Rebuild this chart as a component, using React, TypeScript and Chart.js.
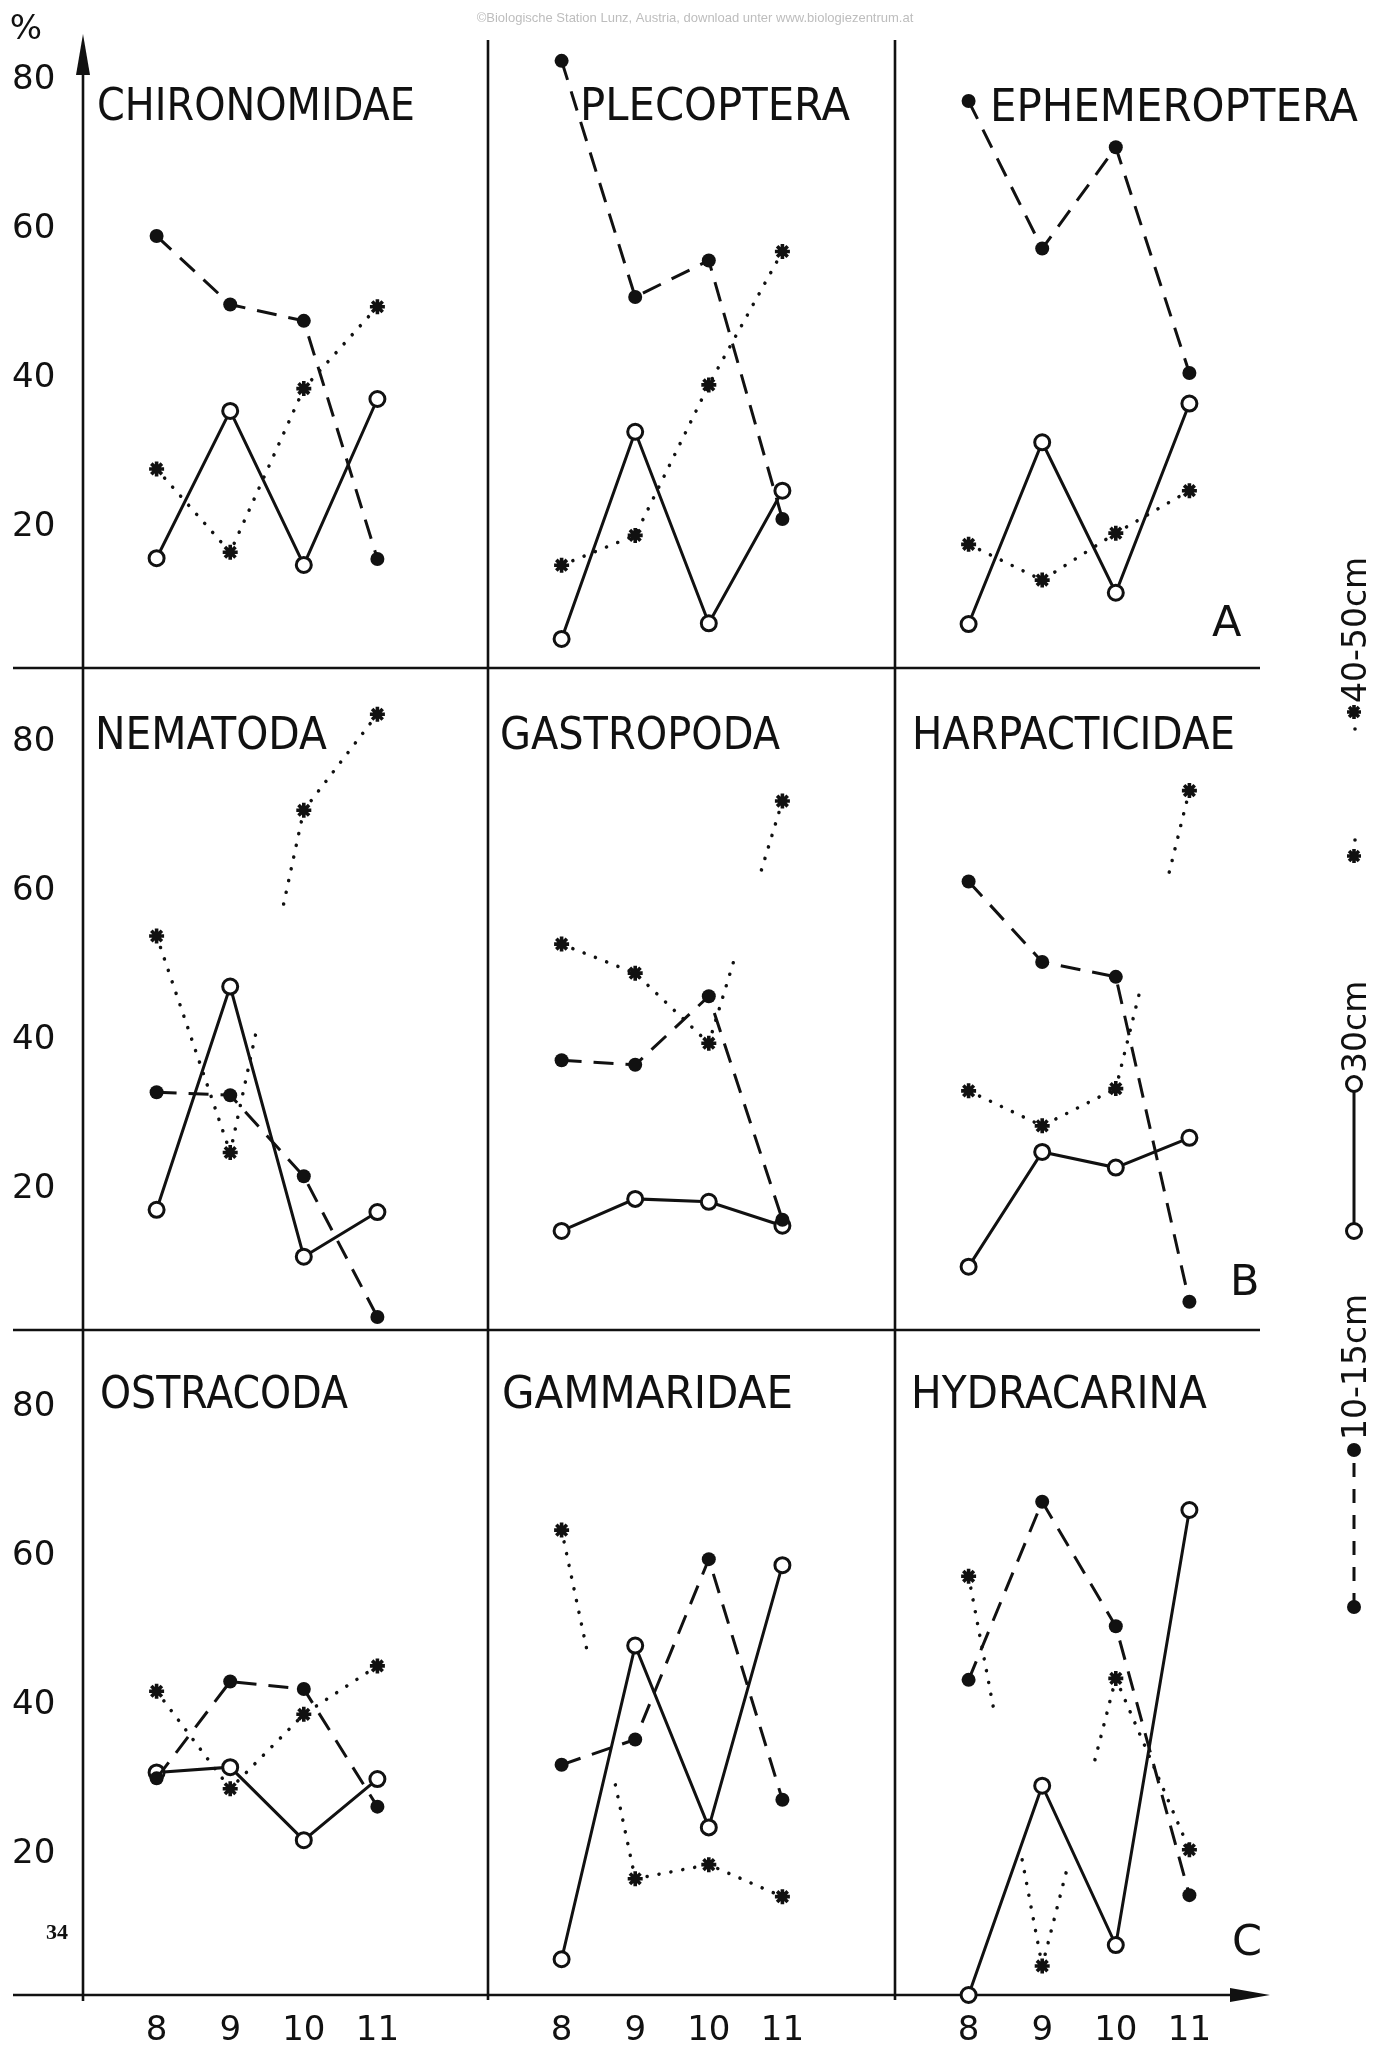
import React, { useEffect, useRef } from 'react';
import { Chart, registerables } from 'chart.js';

Chart.register(...registerables);

// ---------------------------------------------------------------------------
// Data: share (%) of each taxon found in three sediment depth layers,
// for the sampling months 8–11.
// ---------------------------------------------------------------------------
const MONTHS = [8, 9, 10, 11];
const Y_TICKS = [20, 40, 60, 80];
const DEPTHS = ['10-15cm', '30cm', '40-50cm'];
const TAXA = [
  'CHIRONOMIDAE', 'PLECOPTERA', 'EPHEMEROPTERA',
  'NEMATODA', 'GASTROPODA', 'HARPACTICIDAE',
  'OSTRACODA', 'GAMMARIDAE', 'HYDRACARINA',
];
const ROW_MARKS = ['A', 'B', 'C'];

// rows follow DEPTHS: 10-15cm, 30cm, 40-50cm
const CHIRONOMIDAE = [
  [58.0, 48.8, 46.6, 14.6],
  [14.7, 34.5, 13.8, 36.1],
  [26.7, 15.5, 37.5, 48.5],
];
const PLECOPTERA = [
  [81.5, 49.8, 54.7, 20.0],
  [3.9, 31.7, 6.0, 23.8],
  [13.8, 17.8, 38.0, 55.9],
];
const EPHEMEROPTERA = [
  [76.1, 56.3, 69.9, 39.6],
  [5.9, 30.3, 10.1, 35.5],
  [16.6, 11.8, 18.1, 23.8],
];
const NEMATODA = [
  [31.9, 31.5, 20.6, 1.7],
  [16.1, 46.1, 9.8, 15.8],
  [52.9, 23.8, 69.8, 82.7],
];
const GASTROPODA = [
  [36.2, 35.6, 44.8, 14.8],
  [13.3, 17.6, 17.2, 14.0],
  [51.8, 47.9, 38.5, 71.0],
];
const HARPACTICIDAE = [
  [60.2, 49.4, 47.4, 3.8],
  [8.5, 23.9, 21.8, 25.8],
  [32.1, 27.4, 32.4, 72.4],
];
const OSTRACODA = [
  [29.1, 42.1, 41.1, 25.3],
  [29.9, 30.6, 20.8, 29.0],
  [40.8, 27.7, 37.7, 44.2],
];
const GAMMARIDAE = [
  [30.9, 34.3, 58.5, 26.2],
  [4.8, 46.9, 22.5, 57.7],
  [62.4, 15.6, 17.5, 13.2],
];
const HYDRACARINA = [
  [42.3, 66.2, 49.5, 13.4],
  [0.0, 28.1, 6.7, 65.1],
  [56.2, 3.9, 42.5, 19.5],
];

const TAXON_VALUES = [
  CHIRONOMIDAE, PLECOPTERA, EPHEMEROPTERA,
  NEMATODA, GASTROPODA, HARPACTICIDAE,
  OSTRACODA, GAMMARIDAE, HYDRACARINA,
];

const WATERMARK = '©Biologische Station Lunz, Austria, download unter www.biologiezentrum.at';
const PAGE_NUMBER = '34';

// ---------------------------------------------------------------------------
// Layout (page pixels)
// ---------------------------------------------------------------------------
const PAGE_W = 1385;
const PAGE_H = 2049;
const COL_LEFT = [83, 488, 895];
const COL_W = 405;
const ROW_TOP = [40, 668, 1330];
const ROW_BOTTOM = [668, 1330, 1995];
const PX_PER_PCT = 7.45;
const PX_PER_MONTH = 73.6;
const X_MIN = 7;
const FRAME_LEFT = 13;
const FRAME_RIGHT = 1260;
const PAD = 20;
const PAD_RIGHT_LAST = 80;
const Y_LABEL_LEFT = 12;
const X_AXIS_H = 54;

// title: offset from panel's top-left corner (x, baseline) and drawn width
const TITLE_BOX = [
  [14, 80, 318], [92, 80, 270], [95, 81, 368],
  [12, 81, 232], [12, 81, 280], [17, 81, 323],
  [17, 78, 248], [14, 78, 291], [16, 78, 296],
];
// row letter inside the right-hand panel
const MARK_BOX = [[317, 596], [335, 627], [337, 625]];

const INK = '#111111';
const TEXT_FONT = "'DejaVu Sans', 'Liberation Sans', sans-serif";

function hasFont(name: string): boolean {
  const c = document.createElement('canvas').getContext('2d');
  if (!c) return false;
  const s = '0123456789-cmABCabc';
  c.font = '40px monospace';
  const a = c.measureText(s).width;
  c.font = `40px '${name}', monospace`;
  const b = c.measureText(s).width;
  return Math.abs(a - b) > 0.5;
}

// sparse dots; long segments only keep dots near both ends
const DOT_STEP = 12;
function dottedPattern(ctx: any): number[] {
  const a = ctx.p0;
  const b = ctx.p1;
  const len = Math.hypot(b.x - a.x, b.y - a.y);
  if (!(len > 235)) return [0.1, DOT_STEP];
  const marks: number[] = [];
  for (let s = 0; s <= len * 0.35; s += DOT_STEP) marks.push(s);
  const tail: number[] = [];
  for (let s = len; s >= len * 0.7; s -= DOT_STEP) tail.push(s);
  marks.push(...tail.reverse());
  const dash: number[] = [];
  for (let i = 0; i < marks.length; i++) {
    const next = i + 1 < marks.length ? marks[i + 1] : marks[i] + 4000;
    dash.push(0.1, Math.max(next - marks[i] - 0.1, 0.1));
  }
  return dash;
}

function depthDataset(depth: number, values: number[]) {
  const data = MONTHS.map((m, i) => ({ x: m, y: values[i] }));
  const common = {
    label: DEPTHS[depth],
    data,
    clip: false as const,
    borderColor: INK,
    pointBorderColor: INK,
    pointHoverRadius: 0,
  };
  if (depth === 0) {
    return {
      ...common,
      borderWidth: 3,
      borderDash: [20, 12],
      pointStyle: 'circle',
      pointRadius: 7,
      pointBackgroundColor: INK,
      pointBorderWidth: 0,
    };
  }
  if (depth === 1) {
    return {
      ...common,
      borderWidth: 3,
      pointStyle: 'circle',
      pointRadius: 7.5,
      pointBackgroundColor: '#ffffff',
      pointBorderWidth: 3,
    };
  }
  return {
    ...common,
    borderWidth: 3.5,
    borderCapStyle: 'round' as const,
    segment: { borderDash: dottedPattern },
    pointStyle: 'star',
    pointRadius: 7.5,
    pointBackgroundColor: INK,
    pointBorderWidth: 3.6,
  };
}

const panelText = {
  id: 'panelText',
  beforeDatasetsDraw(chart: any, _args: any, opts: any) {
    const { ctx, chartArea } = chart;
    ctx.save();
    ctx.fillStyle = INK;
    ctx.textAlign = 'left';
    ctx.textBaseline = 'alphabetic';
    ctx.font = `45px ${TEXT_FONT}`;
    const w = ctx.measureText(opts.title).width;
    ctx.translate(chartArea.left + opts.dx, chartArea.top + opts.dy);
    ctx.scale(opts.width / w, 1);
    ctx.fillText(opts.title, 0, 0);
    ctx.restore();
    if (opts.mark) {
      ctx.save();
      ctx.fillStyle = INK;
      ctx.textAlign = 'left';
      ctx.textBaseline = 'alphabetic';
      ctx.font = `43px ${TEXT_FONT}`;
      ctx.fillText(opts.mark, chartArea.left + opts.mx, chartArea.top + opts.my);
      ctx.restore();
    }
  },
};

function Panel({ index, narrow }: { index: number; narrow: boolean }) {
  const ref = useRef<HTMLCanvasElement>(null);
  const r = Math.floor(index / 3);
  const c = index % 3;
  const padRight = c === 2 ? PAD_RIGHT_LAST : PAD;
  const left = c === 0 ? 0 : COL_LEFT[c] - PAD;
  const top = ROW_TOP[r] - PAD;
  const right = COL_LEFT[c] + COL_W + padRight;
  const bottom = r === 2 ? ROW_BOTTOM[r] + X_AXIS_H : ROW_BOTTOM[r] + PAD;
  const w = right - left;
  const h = bottom - top;

  useEffect(() => {
    const canvas = ref.current;
    if (!canvas) return;
    const values = TAXON_VALUES[index];
    const [dx, dy, tw] = TITLE_BOX[index];
    const xFont = narrow
      ? { family: "'Liberation Sans Narrow', 'DejaVu Sans', sans-serif", size: 40 }
      : { family: TEXT_FONT, size: 34 };
    const chart = new Chart(canvas, {
      type: 'line',
      data: { datasets: [0, 1, 2].map((d) => depthDataset(d, values[d])) as any },
      plugins: [panelText],
      options: {
        responsive: false,
        devicePixelRatio: 1,
        animation: false,
        events: [],
        layout: {
          padding: {
            left: c === 0 ? Y_LABEL_LEFT : PAD,
            right: padRight,
            top: PAD,
            bottom: r === 2 ? 0 : PAD,
          },
        },
        scales: {
          x: {
            type: 'linear',
            min: X_MIN,
            max: X_MIN + COL_W / PX_PER_MONTH,
            display: r === 2,
            afterBuildTicks: (s: any) => { s.ticks = MONTHS.map((v) => ({ value: v })); },
            afterFit: r === 2 ? (s: any) => { s.height = X_AXIS_H; } : undefined,
            grid: { display: false, drawTicks: false },
            border: { display: false },
            ticks: {
              font: xFont,
              color: INK,
              padding: Math.max(36 - xFont.size * 0.6, 0),
              maxRotation: 0,
              autoSkip: false,
              callback: (v: any) => String(v),
            },
          },
          y: {
            type: 'linear',
            min: 0,
            max: (ROW_BOTTOM[r] - ROW_TOP[r]) / PX_PER_PCT,
            display: c === 0,
            afterBuildTicks: (s: any) => { s.ticks = Y_TICKS.map((v) => ({ value: v })); },
            afterFit: c === 0 ? (s: any) => { s.width = COL_LEFT[0] - Y_LABEL_LEFT; } : undefined,
            grid: { display: false, drawTicks: false },
            border: { display: false },
            ticks: {
              font: { family: TEXT_FONT, size: 34 },
              color: INK,
              padding: 0,
              crossAlign: 'far',
              labelOffset: 8,
              autoSkip: false,
              callback: (v: any) => String(v),
            },
          },
        },
        plugins: {
          legend: { display: false },
          tooltip: { enabled: false },
          panelText: {
            title: TAXA[index],
            dx, dy, width: tw,
            mark: c === 2 ? ROW_MARKS[r] : '',
            mx: MARK_BOX[r][0],
            my: MARK_BOX[r][1],
          },
        } as any,
      },
    } as any);
    return () => chart.destroy();
  }, [index, narrow]);

  return (
    <canvas
      ref={ref}
      width={w}
      height={h}
      style={{ position: 'absolute', left, top, width: w, height: h }}
    />
  );
}

// ---------------------------------------------------------------------------
// Frame, key and page furniture
// ---------------------------------------------------------------------------
const LEGEND_X = 1354;
const LEGEND_TEXT_X = 1357;

function drawStar(ctx: CanvasRenderingContext2D, x: number, y: number, r: number) {
  ctx.save();
  ctx.lineWidth = 3.6;
  ctx.strokeStyle = INK;
  ctx.beginPath();
  for (let k = 0; k < 4; k++) {
    const a = (k * Math.PI) / 4;
    ctx.moveTo(x - Math.cos(a) * r, y - Math.sin(a) * r);
    ctx.lineTo(x + Math.cos(a) * r, y + Math.sin(a) * r);
  }
  ctx.stroke();
  ctx.restore();
}

function drawDisc(ctx: CanvasRenderingContext2D, x: number, y: number, r: number) {
  ctx.beginPath();
  ctx.arc(x, y, r, 0, Math.PI * 2);
  ctx.fillStyle = INK;
  ctx.fill();
}

function drawRing(ctx: CanvasRenderingContext2D, x: number, y: number, r: number) {
  ctx.beginPath();
  ctx.arc(x, y, r, 0, Math.PI * 2);
  ctx.fillStyle = '#ffffff';
  ctx.fill();
  ctx.lineWidth = 3;
  ctx.strokeStyle = INK;
  ctx.stroke();
}

function upText(ctx: CanvasRenderingContext2D, text: string, x: number, yStart: number) {
  ctx.save();
  ctx.translate(x, yStart);
  ctx.rotate(-Math.PI / 2);
  ctx.fillStyle = INK;
  ctx.font = `33px ${TEXT_FONT}`;
  ctx.textAlign = 'left';
  ctx.textBaseline = 'middle';
  ctx.fillText(text, 0, 0);
  ctx.restore();
}

function drawFrame(ctx: CanvasRenderingContext2D) {
  ctx.fillStyle = '#ffffff';
  ctx.fillRect(0, 0, PAGE_W, PAGE_H);

  ctx.fillStyle = '#bdbdbd';
  ctx.font = "13px 'Liberation Sans', Arial, sans-serif";
  ctx.textAlign = 'center';
  ctx.textBaseline = 'middle';
  ctx.fillText(WATERMARK, 695, 18);

  ctx.strokeStyle = INK;
  ctx.fillStyle = INK;
  ctx.lineWidth = 2.6;
  ctx.lineCap = 'butt';
  const seg = (x1: number, y1: number, x2: number, y2: number) => {
    ctx.beginPath();
    ctx.moveTo(x1, y1);
    ctx.lineTo(x2, y2);
    ctx.stroke();
  };

  // value axis with arrow
  const ax = COL_LEFT[0];
  seg(ax, 70, ax, ROW_BOTTOM[2] + 6);
  ctx.beginPath();
  ctx.moveTo(ax, 34);
  ctx.lineTo(ax - 7, 75);
  ctx.lineTo(ax + 7, 75);
  ctx.closePath();
  ctx.fill();

  // column dividers
  seg(COL_LEFT[1], ROW_TOP[0], COL_LEFT[1], ROW_BOTTOM[2] + 5);
  seg(COL_LEFT[2], ROW_TOP[0], COL_LEFT[2], ROW_BOTTOM[2] + 5);

  // row dividers
  seg(FRAME_LEFT, ROW_BOTTOM[0], FRAME_RIGHT, ROW_BOTTOM[0]);
  seg(FRAME_LEFT, ROW_BOTTOM[1], FRAME_RIGHT, ROW_BOTTOM[1]);

  // month axis with arrow
  const by = ROW_BOTTOM[2];
  seg(FRAME_LEFT, by, 1236, by);
  ctx.beginPath();
  ctx.moveTo(1270, by);
  ctx.lineTo(1230, by - 7);
  ctx.lineTo(1230, by + 7);
  ctx.closePath();
  ctx.fill();

  // unit
  ctx.fillStyle = INK;
  ctx.font = `34px ${TEXT_FONT}`;
  ctx.textAlign = 'center';
  ctx.textBaseline = 'middle';
  ctx.fillText('%', 26, 30);

  // page number
  ctx.font = "bold 22px 'Liberation Serif', 'DejaVu Serif', serif";
  ctx.fillText(PAGE_NUMBER, 57, 1933);

  // key (reads bottom to top)
  // 40-50cm
  drawStar(ctx, LEGEND_X, 856, 7);
  drawStar(ctx, LEGEND_X, 712, 7);
  drawDisc(ctx, LEGEND_X + 1, 840, 1.8);
  drawDisc(ctx, LEGEND_X + 1, 729, 1.8);
  upText(ctx, DEPTHS[2], LEGEND_TEXT_X, 703);
  // 30cm
  ctx.lineWidth = 3;
  seg(LEGEND_X, 1084, LEGEND_X, 1231);
  drawRing(ctx, LEGEND_X, 1231, 7.5);
  drawRing(ctx, LEGEND_X, 1084, 7.5);
  upText(ctx, DEPTHS[1], LEGEND_TEXT_X, 1073);
  // 10-15cm
  ctx.save();
  ctx.setLineDash([14, 12]);
  ctx.lineWidth = 3;
  seg(LEGEND_X, 1607, LEGEND_X, 1450);
  ctx.restore();
  drawDisc(ctx, LEGEND_X, 1607, 7);
  drawDisc(ctx, LEGEND_X, 1450, 7);
  upText(ctx, DEPTHS[0], LEGEND_TEXT_X, 1440);
}

export default function App() {
  const frameRef = useRef<HTMLCanvasElement>(null);
  const narrow = React.useMemo(() => hasFont('Liberation Sans Narrow'), []);

  useEffect(() => {
    document.documentElement.style.overflow = 'hidden';
    const ctx = frameRef.current?.getContext('2d');
    if (ctx) drawFrame(ctx);
  }, []);

  return (
    <div
      style={{
        position: 'absolute',
        left: 0,
        top: 0,
        width: PAGE_W,
        height: PAGE_H,
        background: '#ffffff',
        overflow: 'hidden',
      }}
    >
      <canvas
        ref={frameRef}
        width={PAGE_W}
        height={PAGE_H}
        style={{ position: 'absolute', left: 0, top: 0, width: PAGE_W, height: PAGE_H }}
      />
      {TAXA.map((t, i) => (
        <Panel key={t} index={i} narrow={narrow} />
      ))}
    </div>
  );
}
